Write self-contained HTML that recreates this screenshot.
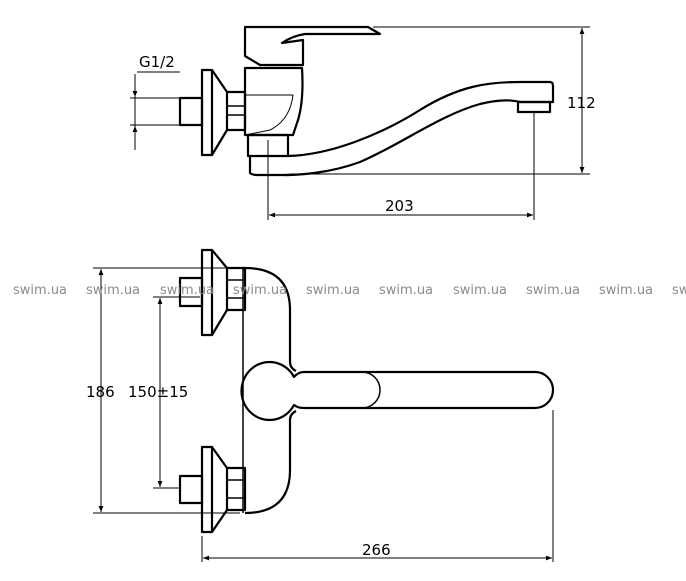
<!DOCTYPE html>
<html><head><meta charset="utf-8"><style>
html,body{margin:0;padding:0;background:#fff;}
svg{display:block;}
text{font-family:"DejaVu Sans","Liberation Sans",sans-serif;}
</style></head><body>
<svg width="686" height="581" viewBox="0 0 686 581" xmlns="http://www.w3.org/2000/svg">
<defs>
<marker id="a" viewBox="0 0 10 10" refX="10" refY="5" markerWidth="9" markerHeight="6" orient="auto-start-reverse" markerUnits="userSpaceOnUse"><path d="M0,1 L10,5 L0,9 Z" fill="#000"/></marker>
</defs>
<g fill="none" stroke="#000" stroke-width="2.2" stroke-linejoin="round">
<path d="M245,27 L368,27 L380,34 L305,34 Q292,36 282,43 L303,40 L303,65 L260,65 L245,56 Z"/>
<path d="M245,68 L302,68 Q304,100 298,120 L293,135 L245,135 Z"/>
<path d="M293,95 Q290,120 270,130 L245,135" stroke-width="1"/>
<line x1="245" y1="95" x2="293" y2="95" stroke-width="1"/>
<rect x="248" y="135" width="40" height="21"/>
<path d="M250,156 L250,173 Q252,175 258,175 L290,175"/>
<rect x="227" y="92" width="18" height="38"/>
<line x1="227" y1="106" x2="245" y2="106" stroke-width="1.5"/>
<line x1="227" y1="115" x2="245" y2="115" stroke-width="1.5"/>
<rect x="202" y="70" width="10" height="85"/>
<path d="M212,70 L227,92 M212,155 L227,130"/>
<rect x="180" y="98" width="22" height="27"/>
<path d="M288,156 C330,155 380,135 420,110 C460,85 490,82 520,82 L550,82 Q553,82 553,86 L553,102 L520,102 Q505,98 480,104 C440,115 400,145 360,162 C330,173 300,175 285,175"/>
<rect x="518" y="102" width="32" height="10"/>
<g stroke-width="1">
<line x1="373" y1="27" x2="590" y2="27"/>
<line x1="290" y1="174" x2="590" y2="174"/>
<line x1="582" y1="28" x2="582" y2="173" marker-start="url(#a)" marker-end="url(#a)"/>
<line x1="268" y1="140" x2="268" y2="220"/>
<line x1="534" y1="112" x2="534" y2="220"/>
<line x1="269" y1="215" x2="533" y2="215" marker-start="url(#a)" marker-end="url(#a)"/>
<line x1="137" y1="72" x2="180" y2="72"/>
<line x1="135" y1="74" x2="135" y2="150"/>
<line x1="130" y1="98" x2="180" y2="98"/>
<line x1="130" y1="125" x2="180" y2="125"/>
<line x1="135" y1="84" x2="135" y2="97" marker-end="url(#a)"/>
<line x1="135" y1="138" x2="135" y2="126" marker-end="url(#a)"/>
</g>

<rect x="202" y="250" width="10" height="85"/>
<path d="M212,250 L227,268 M212,335 L227,310"/>
<rect x="180" y="278" width="22" height="28"/>
<rect x="227" y="268" width="18" height="42"/>
<line x1="227" y1="280" x2="245" y2="280" stroke-width="1.5"/>
<line x1="227" y1="298" x2="245" y2="298" stroke-width="1.5"/>
<rect x="202" y="447" width="10" height="85"/>
<path d="M212,447 L227,468 M212,532 L227,510"/>
<rect x="180" y="476" width="22" height="27"/>
<rect x="227" y="468" width="18" height="42"/>
<line x1="227" y1="480" x2="245" y2="480" stroke-width="1.5"/>
<line x1="227" y1="498" x2="245" y2="498" stroke-width="1.5"/>
<line x1="243" y1="268" x2="243" y2="513" stroke-width="1.5"/>
<path d="M245,268 Q290,268 290,310 L290,362 Q290,368 296,371"/>
<path d="M296,411 Q290,414 290,420 L290,470 Q290,513 245,513"/>
<path d="M304,372 L535,372 A18,18 0 0 1 535,408 L304,408 Q298,408 294,405 A28,29 0 1 1 294,377 Q298,372 304,372 Z"/>
<path d="M304,372 L362,372 A18,18 0 0 1 362,408 L304,408" stroke-width="1.5"/>
<g stroke-width="1">
<line x1="93" y1="268" x2="240" y2="268"/>
<line x1="93" y1="513" x2="240" y2="513"/>
<line x1="101" y1="269" x2="101" y2="512" marker-start="url(#a)" marker-end="url(#a)"/>
<line x1="153" y1="297" x2="200" y2="297"/>
<line x1="153" y1="488" x2="180" y2="488"/>
<line x1="160" y1="298" x2="160" y2="487" marker-start="url(#a)" marker-end="url(#a)"/>
<line x1="202" y1="536" x2="202" y2="562"/>
<line x1="553" y1="410" x2="553" y2="562"/>
<line x1="203" y1="558" x2="552" y2="558" marker-start="url(#a)" marker-end="url(#a)"/>
</g>
</g>
<g font-size="15" fill="#000">
<text x="139" y="67">G1/2</text>
<text x="567" y="108">112</text>
<text x="385" y="211">203</text>
<text x="86" y="397">186</text>
<text x="128" y="397">150±15</text>
<text x="362" y="555">266</text>
</g>
<g font-size="13" fill="#8a8a8a">
<text x="13" y="294">swim.ua</text>
<text x="86" y="294">swim.ua</text>
<text x="160" y="294">swim.ua</text>
<text x="233" y="294">swim.ua</text>
<text x="306" y="294">swim.ua</text>
<text x="379" y="294">swim.ua</text>
<text x="453" y="294">swim.ua</text>
<text x="526" y="294">swim.ua</text>
<text x="599" y="294">swim.ua</text>
<text x="672" y="294">swim.ua</text>
</g>
</svg>
</body></html>
